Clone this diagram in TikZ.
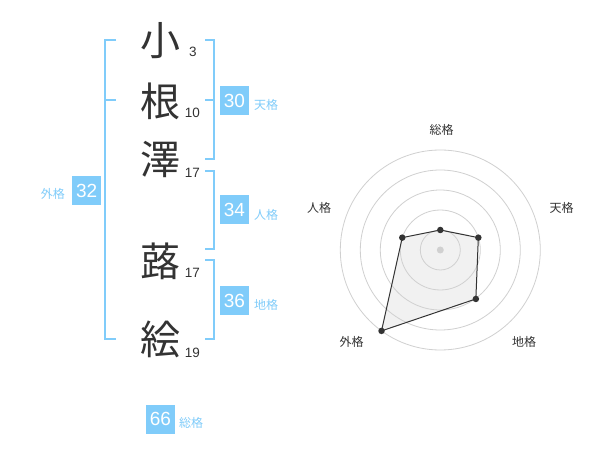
\documentclass[tikz,border=0pt]{standalone}
\usepackage{fontspec}
\setmainfont{Liberation Sans}
\newfontfamily\jp{Noto Sans CJK JP}
\definecolor{sky}{RGB}{128,204,250}
\definecolor{ink}{RGB}{51,51,51}
\definecolor{ring}{RGB}{208,208,208}
\definecolor{area}{RGB}{241,241,241}
\tikzset{
  kanji/.style = {font = \jp\fontsize{40}{40}\selectfont, text = ink, inner sep = 0pt},
  strokes/.style = {font = \fontsize{13.5}{14}\selectfont, text = ink, inner sep = 0pt, anchor = base},
  score/.style = {fill = sky, text = white, minimum size = 29pt, inner sep = 0pt, font = \fontsize{19}{19}\selectfont},
  kaku/.style = {text = sky, font = \jp\fontsize{12}{12}\selectfont, inner sep = 0pt},
  bracket/.style = {draw = sky, line width = 2pt},
  axis label/.style = {text = ink, font = \jp\fontsize{12}{12}\selectfont, inner sep = 0pt},
  dot/.style = {circle, fill = ink, inner sep = 0pt, minimum size = 6.5pt},
}
\begin{document}
\begin{tikzpicture}[x = 1pt, y = -1pt]
    \useasboundingbox[fill = white] (0, 0) rectangle (600, 470);
    % name, one character per row
    \node[kanji] (ko) at (160, 41) {小};
    \node[kanji] (ne) at (160, 101) {根};
    \node[kanji] (sawa) at (160, 159) {澤};
    \node[kanji] (fuki) at (160, 261) {蕗};
    \node[kanji] (e) at (160, 339) {絵};
    \node[strokes] (ko strokes) at (193, 57) {3};
    \node[strokes] (ne strokes) at (192.5, 117.5) {10};
    \node[strokes] (sawa strokes) at (192.5, 177.5) {17};
    \node[strokes] (fuki strokes) at (192.5, 277.5) {17};
    \node[strokes] (e strokes) at (192.5, 357.5) {19};
    % brackets
    \draw[bracket] (116, 40) -- (105, 40) -- (105, 339) -- (116, 339);
    \draw[bracket] (105, 100) -- (116, 100);
    \draw[bracket] (205, 40) -- (214.3, 40) -- (214.3, 159.3) -- (205, 159.3);
    \draw[bracket] (214.3, 100) -- (205, 100);
    \draw[bracket] (205, 171) -- (214.3, 171) -- (214.3, 249.5) -- (205, 249.5);
    \draw[bracket] (205, 260) -- (214.3, 260) -- (214.3, 339) -- (205, 339);
    % scores
    \node[score] (tenkaku) at (234.5, 100.5) {30};
    \node[kaku, anchor = west] (tenkaku label) at (254, 105) {天格};
    \node[score] (jinkaku) at (234.5, 210) {34};
    \node[kaku, anchor = west] (jinkaku label) at (254, 215) {人格};
    \node[score] (chikaku) at (234.5, 300.5) {36};
    \node[kaku, anchor = west] (chikaku label) at (254, 305) {地格};
    \node[score] (gaikaku) at (86.7, 190.5) {32};
    \node[kaku, anchor = east] (gaikaku label) at (65, 193.5) {外格};
    \node[score] (soukaku) at (160.5, 419) {66};
    \node[kaku, anchor = west] (soukaku label) at (179, 423) {総格};
    % radar chart
    \node[axis label] (soukaku axis) at (441.5, 130) {総格};
    \node[axis label] (tenkaku axis) at (561.5, 208) {天格};
    \node[axis label] (chikaku axis) at (524, 341.5) {地格};
    \node[axis label] (gaikaku axis) at (351.5, 341.5) {外格};
    \node[axis label] (jinkaku axis) at (319, 208) {人格};
    \begin{scope}[shift = {(440.3, 250)}, y = 1pt]
      \coordinate (sou) at (90:20);
      \coordinate (ten) at (18:40);
      \coordinate (chi) at (-54:60.5);
      \coordinate (gai) at (-126:100);
      \coordinate (jin) at (162:40);
      \fill[area] (sou) -- (ten) -- (chi) -- (gai) -- (jin) -- cycle;
      \foreach \r in {20, 40, 60, 80, 100}
        \draw[ring, line width = 0.8pt] (0, 0) circle (\r);
      \fill[ring] (0, 0) circle (3.5);
      \draw[ink, line width = 1pt] (sou) -- (ten) -- (chi) -- (gai) -- (jin) -- cycle;
      \foreach \p in {sou, ten, chi, gai, jin}
        \node[dot] (\p\space dot) at (\p) {};
    \end{scope}
  \end{tikzpicture}
\end{document}
